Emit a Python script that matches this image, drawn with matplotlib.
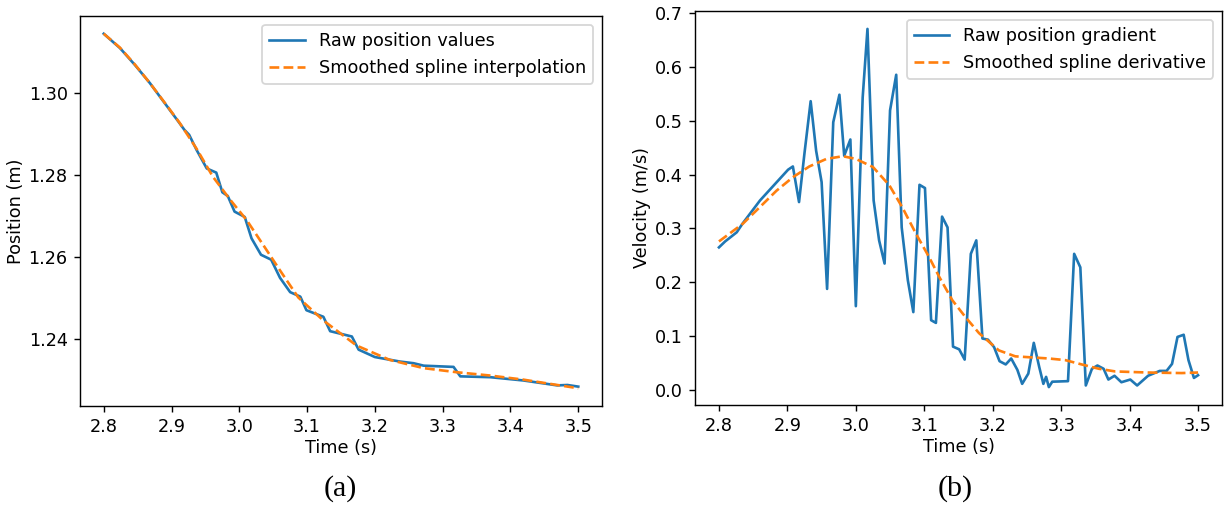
import matplotlib
matplotlib.use('Agg')
import matplotlib.pyplot as plt

# Raw tracked position and its spline fit
t_pos_raw = [2.800, 2.824, 2.846, 2.868, 2.890, 2.912, 2.919, 2.926, 2.937, 2.952,
             2.966, 2.975, 2.983, 2.993, 3.008, 3.018, 3.032, 3.047, 3.060, 3.075,
             3.090, 3.099, 3.124, 3.134, 3.166, 3.176, 3.200, 3.237, 3.257, 3.272,
             3.316, 3.326, 3.370, 3.419, 3.469, 3.484, 3.500]
pos_raw = [1.3144, 1.3109, 1.3068, 1.3024, 1.2975, 1.2926, 1.2910, 1.2898, 1.2861, 1.2816,
           1.2806, 1.2758, 1.2749, 1.2711, 1.2698, 1.2646, 1.2606, 1.2594, 1.2550, 1.2515,
           1.2504, 1.2471, 1.2455, 1.2420, 1.2407, 1.2375, 1.2357, 1.2346, 1.2342, 1.2336,
           1.2333, 1.2310, 1.2308, 1.2300, 1.2288, 1.2289, 1.2285]

t_pos_fit = [2.800, 2.824, 2.846, 2.868, 2.890, 2.912, 2.937, 2.961, 2.986, 3.011,
             3.036, 3.060, 3.087, 3.124, 3.173, 3.222, 3.272, 3.321, 3.370, 3.419,
             3.469, 3.500]
pos_fit = [1.3144, 1.3110, 1.3069, 1.3024, 1.2976, 1.2927, 1.2864, 1.2796, 1.2741, 1.2690,
           1.2628, 1.2568, 1.2502, 1.2446, 1.2385, 1.2350, 1.2330, 1.2320, 1.2312, 1.2302,
           1.2289, 1.2281]

# Raw finite-difference velocity and spline derivative
t_vel_raw = [2.800, 2.809, 2.826, 2.835, 2.860, 2.901, 2.908, 2.917, 2.925, 2.934,
             2.942, 2.950, 2.958, 2.967, 2.976, 2.983, 2.992, 3.000, 3.010, 3.017,
             3.026, 3.034, 3.042, 3.050, 3.059, 3.067, 3.076, 3.084, 3.093, 3.101,
             3.110, 3.117, 3.126, 3.134, 3.142, 3.151, 3.159, 3.168, 3.176, 3.185,
             3.193, 3.202, 3.210, 3.219, 3.227, 3.236, 3.243, 3.252, 3.260, 3.268,
             3.274, 3.278, 3.282, 3.287, 3.310, 3.319, 3.328, 3.336, 3.345, 3.353,
             3.362, 3.369, 3.378, 3.388, 3.401, 3.411, 3.427, 3.444, 3.454, 3.462,
             3.470, 3.479, 3.486, 3.494, 3.500]
vel_raw = [0.265, 0.276, 0.293, 0.310, 0.352, 0.409, 0.415, 0.349, 0.440, 0.536,
           0.444, 0.386, 0.188, 0.497, 0.548, 0.435, 0.465, 0.156, 0.543, 0.670,
           0.352, 0.278, 0.235, 0.519, 0.585, 0.302, 0.204, 0.145, 0.381, 0.375,
           0.130, 0.125, 0.322, 0.302, 0.081, 0.076, 0.057, 0.253, 0.278, 0.096,
           0.094, 0.080, 0.054, 0.048, 0.059, 0.038, 0.012, 0.031, 0.088, 0.043,
           0.012, 0.025, 0.006, 0.016, 0.017, 0.253, 0.228, 0.009, 0.040, 0.046,
           0.040, 0.020, 0.027, 0.015, 0.020, 0.009, 0.027, 0.036, 0.036, 0.049,
           0.099, 0.103, 0.056, 0.023, 0.028]

t_vel_fit = [2.800, 2.835, 2.860, 2.884, 2.908, 2.932, 2.957, 2.981, 3.000, 3.025,
             3.049, 3.068, 3.088, 3.107, 3.122, 3.141, 3.160, 3.180, 3.209, 3.233,
             3.282, 3.306, 3.330, 3.355, 3.379, 3.427, 3.476, 3.500]
vel_fit = [0.276, 0.309, 0.340, 0.370, 0.395, 0.415, 0.429, 0.434, 0.429, 0.414,
           0.380, 0.339, 0.290, 0.247, 0.210, 0.167, 0.136, 0.106, 0.074, 0.063,
           0.059, 0.056, 0.048, 0.040, 0.035, 0.033, 0.032, 0.033]

W, H = 1226, 523
DPI = 127
fig = plt.figure(figsize=(W / DPI, H / DPI), dpi=DPI)

ax1 = fig.add_axes([80 / W, 1 - 406 / H, 522 / W, 390 / H])
ax1.plot(t_pos_raw, pos_raw, color='C0', label='Raw position values')
ax1.plot(t_pos_fit, pos_fit, color='C1', ls='--', label='Smoothed spline interpolation')
ax1.set_xlabel('Time (s)', labelpad=1.5)
ax1.set_ylabel('Position (m)', labelpad=2)
ax1.set_yticks([1.24, 1.26, 1.28, 1.30])
ax1.legend(loc='upper right')

ax2 = fig.add_axes([695 / W, 1 - 405 / H, 527 / W, 394 / H])
ax2.plot(t_vel_raw, vel_raw, color='C0', label='Raw position gradient')
ax2.plot(t_vel_fit, vel_fit, color='C1', ls='--', label='Smoothed spline derivative')
ax2.set_xlabel('Time (s)', labelpad=1.5)
ax2.set_ylabel('Velocity (m/s)', labelpad=2)
ax2.legend(loc='upper right')

fig.text(340 / W, 1 - 489 / H, '(a)', family='Liberation Serif', fontsize=17,
         ha='center', va='center')
fig.text(955 / W, 1 - 489 / H, '(b)', family='Liberation Serif', fontsize=17,
         ha='center', va='center')

fig.savefig('out.png', dpi=DPI)
